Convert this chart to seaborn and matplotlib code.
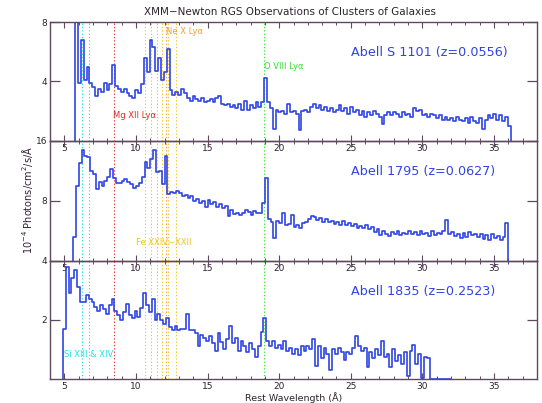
import numpy as np
import pandas as pd
import matplotlib
matplotlib.use("Agg")
import matplotlib.pyplot as plt
from matplotlib.ticker import MultipleLocator, FixedLocator
import seaborn as sns

# ---------------------------------------------------------------- data
BIN = 0.2  # spectral bin width (Angstrom)

# Abell S 1101 (z=0.0556): flux per bin, first bin starts at 5.75 A
s1101_start = 5.75
s1101_flux = [
    9.0, 3.9, 6.8, 4.1, 5.0, 3.9, 3.6, 3.0, 3.5, 3.3,
    3.9, 3.4, 3.8, 5.1, 3.7, 3.5, 3.3, 3.5, 3.2, 3.0,
    2.9, 3.4, 3.2, 3.8, 5.6, 4.6, 6.8, 6.3, 4.7, 5.6,
    4.1, 4.6, 6.2, 3.4, 3.1, 3.3, 3.1, 3.5, 3.2, 2.9,
    2.7, 3.0, 2.8, 2.7, 2.9, 2.6, 2.7, 2.8, 2.6, 2.9,
    3.0, 2.5, 2.4, 2.5, 2.3, 2.4, 2.2, 2.5, 2.1, 2.7,
    2.1, 2.4, 2.2, 2.6, 2.3, 2.6, 4.2, 2.6, 2.2, 0.8,
    2.1, 1.9, 2.0, 1.8, 2.5, 1.9, 2.0, 1.8, 0.7, 2.0,
    2.1, 1.9, 2.3, 2.5, 2.2, 2.4, 2.1, 2.3, 2.0, 2.2,
    1.9, 2.1, 2.4, 2.0, 2.2, 1.8, 2.3, 1.9, 2.1, 1.7,
    2.0, 1.6, 1.9, 1.7, 2.0, 1.8, 1.6, 1.1, 1.7, 1.9,
    1.7, 1.9, 1.8, 1.6, 1.9, 1.7, 1.8, 1.6, 2.2, 2.0,
    2.1, 1.7, 1.8, 1.6, 1.8, 1.7, 1.5, 1.7, 1.4, 1.6,
    1.4, 1.5, 1.3, 1.6, 1.4, 1.3, 1.5, 1.2, 1.6, 1.3,
    1.2, 1.5, 0.8, 1.4, 1.7, 1.5, 1.8, 1.4, 1.7, 1.3,
    1.6, 1.0,
]

# Abell 1795 (z=0.0627): first bin starts at 5.6 A
a1795_start = 5.6
a1795_flux = [
    3.2, 10.0, 13.0, 14.8, 14.0, 13.8, 12.0, 11.5, 9.6, 10.5,
    10.0, 10.6, 11.2, 12.2, 11.0, 10.3, 10.4, 10.6, 10.9, 10.5,
    10.2, 9.7, 10.0, 10.4, 11.2, 13.2, 12.4, 13.5, 14.8, 11.8,
    12.0, 10.2, 14.0, 8.9, 9.2, 9.0, 9.3, 9.0, 8.6, 8.8,
    8.3, 8.6, 7.9, 8.2, 7.7, 8.0, 7.2, 8.1, 7.5, 7.8,
    7.2, 7.6, 7.0, 7.3, 5.9, 6.8, 6.2, 6.4, 6.1, 6.3,
    6.8, 6.5, 6.1, 6.6, 6.3, 6.4, 7.7, 11.0, 5.6, 5.2,
    3.0, 5.3, 5.0, 6.3, 4.8, 4.9, 6.1, 4.5, 4.7, 4.4,
    5.0, 5.2, 5.6, 6.0, 5.8, 5.4, 5.7, 5.2, 5.5, 5.1,
    5.3, 4.9, 5.2, 4.8, 5.3, 4.7, 5.0, 4.6, 4.9, 4.3,
    4.6, 4.4, 4.8, 4.2, 4.5, 3.8, 4.2, 3.4, 3.9, 3.6,
    3.3, 3.8, 3.5, 3.9, 3.4, 3.7, 3.5, 4.0, 3.6, 3.8,
    3.4, 3.9, 3.5, 3.7, 3.3, 3.9, 3.4, 3.7, 3.5, 3.9,
    5.4, 3.6, 3.8, 3.3, 3.6, 3.0, 3.7, 3.2, 3.8, 3.4,
    3.6, 3.1, 3.5, 2.9, 3.4, 2.8, 3.6, 3.0, 3.3, 2.7,
    3.2, 5.0,
]

# Abell 1835 (z=0.2523): first bin starts at 4.9 A, zero flux out to 32 A
a1835_start = 4.9
a1835_end = 32.0
a1835_flux = [
    1.7, 3.8, 2.9, 3.4, 3.7, 3.1, 2.6, 2.6, 2.85, 2.7,
    2.6, 2.45, 2.3, 2.5, 2.35, 2.2, 2.5, 2.7, 2.3, 2.15,
    2.0, 2.25, 2.55, 2.15, 2.05, 2.3, 2.1, 2.4, 2.9, 2.5,
    2.25, 2.7, 2.0, 2.2, 2.0, 1.85, 2.05, 1.75, 1.65, 1.8,
    1.65, 1.7, 1.7, 2.2, 1.65, 1.65, 1.55, 1.1, 1.5, 1.4,
    1.3, 1.45, 1.2, 0.95, 1.55, 1.25, 1.0, 1.35, 1.8, 1.2,
    1.4, 0.95, 1.3, 1.1, 0.9, 1.2, 1.0, 0.75, 1.1, 1.6,
    2.05, 1.3, 1.1, 1.3, 1.05, 1.15, 1.0, 1.3, 0.95, 1.05,
    0.85, 1.0, 0.8, 1.1, 0.95, 1.1, 1.0, 1.35, 0.45, 1.1,
    0.7, 1.05, 0.85, 0.3, 1.0, 0.85, 1.05, 0.9, 0.65, 0.9,
    0.85, 1.05, 1.45, 1.1, 0.95, 1.05, 0.4, 0.9, 0.7, 1.0,
    0.8, 1.3, 0.75, 0.85, 0.4, 1.0, 0.6, 0.8, 0.5, 0.9,
    0.1, 0.95, 1.15, 0.5, 0.85, 0.05, 0.75, 0.7,
]

cluster_names = ["Abell S 1101 (z=0.0556)",
                 "Abell 1795 (z=0.0627)",
                 "Abell 1835 (z=0.2523)"]
panel_ymax = [8, 16, 4]
panel_yticks = [[4, 8], [8, 16], [2, 4]]

# rest wavelengths of the marked emission lines
si_lines = [6.22, 6.69]
mg_lines = [8.44]
fe_lines = [10.65, 11.05, 11.45, 11.79, 12.22, 12.80]
ne_lines = [12.13]
o_lines = [18.97]

# ---------------------------------------------------------------- style
BLUE = "#2f45e2"
FRAME = "#5e4a5e"
INK = "#2e222e"
C_SI = "#22e0e6"
C_MG = "#e02828"
C_FE = "#f2c21e"
C_NE = "#f0a032"
C_O = "#36e036"

sns.set_theme(style="white")
plt.rcParams["font.family"] = ["DejaVu Sans"]
plt.rcParams["axes.edgecolor"] = FRAME
plt.rcParams["axes.linewidth"] = 1.0


def step_table(start, flux, tail_end=None):
    """Histogram outline: rise from zero, one step per bin, drop to zero."""
    x = [start] + [start + i * BIN for i in range(len(flux))] + [start + len(flux) * BIN]
    y = [0.0] + list(flux) + [0.0]
    if tail_end is not None:
        x.append(tail_end)
        y.append(0.0)
    return pd.DataFrame({"wavelength": x, "flux": y})


spectra = [step_table(s1101_start, s1101_flux),
           step_table(a1795_start, a1795_flux),
           step_table(a1835_start, a1835_flux, a1835_end)]

fig = plt.figure(figsize=(5.42, 4.03), dpi=100)
L, W = 50 / 542, 487 / 542
boxes = [(0.6509, 0.2945), (0.3531, 0.2978), (0.0596, 0.2935)]
axes = [fig.add_axes([L, b, W, h]) for b, h in boxes]

dotted = (0, (1.2, 2.0))
for ax, df, name, ymax, yt in zip(axes, spectra, cluster_names, panel_ymax, panel_yticks):
    ax.patch.set_visible(False)
    for lams, col in ((si_lines, C_SI), (mg_lines, C_MG), (fe_lines, C_FE),
                      (ne_lines, C_NE), (o_lines, C_O)):
        for lam in lams:
            ax.axvline(lam, color=col, lw=0.75, ls=dotted)

    sns.lineplot(data=df, x="wavelength", y="flux", ax=ax, estimator=None,
                 sort=False, drawstyle="steps-post", color=BLUE, lw=1.2)

    ax.set_xlim(4.0, 38.0)
    ax.set_ylim(0, ymax)
    ax.set_xlabel("")
    ax.set_ylabel("")
    ax.xaxis.set_major_locator(MultipleLocator(5))
    ax.xaxis.set_minor_locator(MultipleLocator(1))
    ax.yaxis.set_major_locator(FixedLocator(yt))
    ax.tick_params(axis="x", which="both", direction="in", top=True, bottom=True,
                   color=FRAME, labelsize=6.5, labelcolor=INK, pad=2.5)
    ax.tick_params(axis="x", which="major", length=4, width=0.8)
    ax.tick_params(axis="x", which="minor", length=2.2, width=0.7)
    ax.tick_params(axis="y", which="major", direction="in", left=True, right=True,
                   length=7, width=0.9, color=FRAME, labelsize=6.5,
                   labelcolor=INK, pad=2)
    ax.text(0.618, 0.74, name, transform=ax.transAxes, color=BLUE,
            fontsize=9.2, ha="left", va="center")

ax1, ax2, ax3 = axes
lab = dict(fontsize=6, ha="left", va="center")
ax1.text(12.11, 0.924, "Ne X Ly\u03b1", color=C_NE, transform=ax1.get_xaxis_transform(), **lab)
ax1.text(8.42, 0.216, "Mg XII Ly\u03b1", color=C_MG, transform=ax1.get_xaxis_transform(), **lab)
ax1.text(18.95, 0.621, "O VIII Ly\u03b1", color=C_O, transform=ax1.get_xaxis_transform(), **lab)
ax2.text(10.02, 0.15, "Fe XXIV\u2212XXII", color=C_FE, transform=ax2.get_xaxis_transform(), **lab)
ax3.text(5.0, 0.211, "Si XIII & XIV", color=C_SI, transform=ax3.get_xaxis_transform(), **lab)

fig.text(0.535, 0.970, "XMM\u2212Newton RGS Observations of Clusters of Galaxies",
         ha="center", va="center", fontsize=7.5, color=INK)
fig.text(0.541, 0.001, "Rest Wavelength (\u00c5)", ha="center", va="bottom",
         fontsize=6.8, color=INK)
fig.text(0.050, 0.503, "10$^{-4}$ Photons/cm$^{2}$/s/\u00c5", rotation=90,
         ha="center", va="center", fontsize=7, color=INK)

fig.savefig("out.png", dpi=100)
